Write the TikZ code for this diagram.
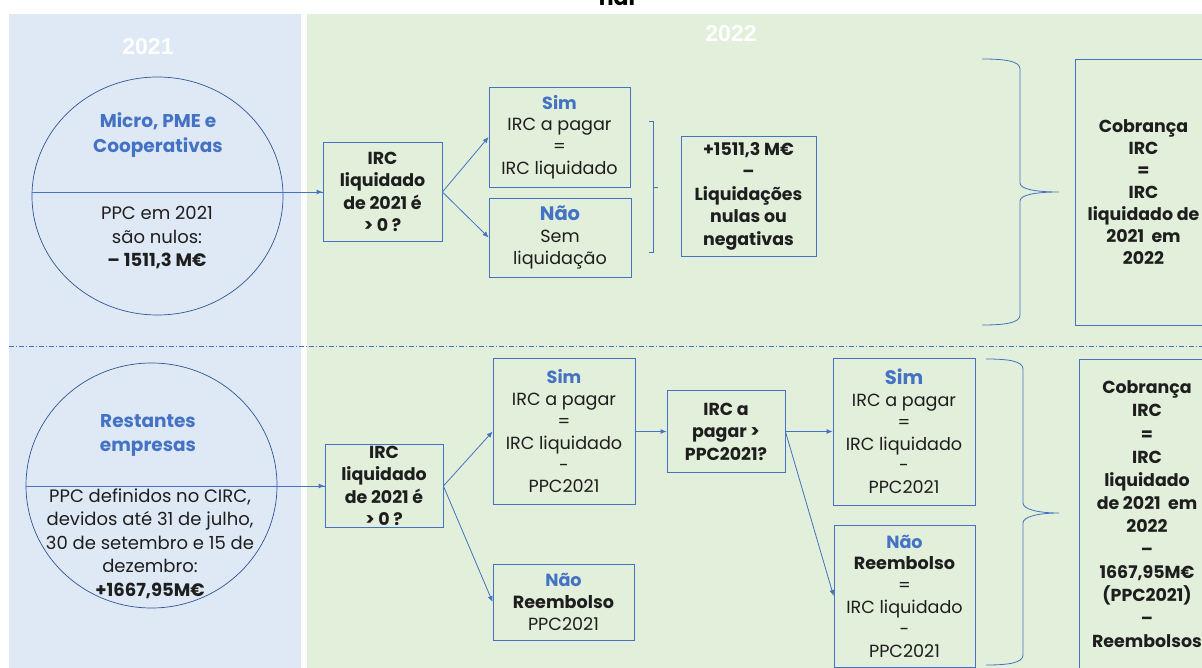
\documentclass[tikz,border=0pt]{standalone}
\usepackage{fontspec}
\setmainfont{Poppins}
\newfontfamily\headfont{Liberation Sans}
\usetikzlibrary{arrows.meta}
\definecolor{bluepanel}{HTML}{DEE9F5}
\definecolor{greenpanel}{HTML}{E2EFDA}
\definecolor{bblue}{HTML}{4472C4}
\definecolor{cblue}{HTML}{2F5597}
\definecolor{ink}{HTML}{1E1E1E}
\begin{document}
\begin{tikzpicture}[x=1pt,y=-1pt,
  box/.style={draw=bblue, line width=0.8pt, align=center, inner sep=0pt, text=ink,
    font=\fontsize{17.6}{21.8}\selectfont},
  bbox/.style={box, font=\fontsize{17.4}{22.5}\selectfont\bfseries},
  txt/.style={align=center, inner sep=0pt, text=ink, font=\fontsize{18}{23.5}\selectfont},
  ttl/.style={align=center, inner sep=0pt, text=bblue, font=\fontsize{18.5}{24.5}\selectfont\bfseries},
  circ/.style={draw=cblue, line width=0.7pt},
  arr/.style={draw=bblue, line width=0.8pt, -{Latex[length=6pt,width=5pt]}},
  ln/.style={draw=bblue, line width=0.8pt},
  brace/.style={draw=bblue, line width=0.8pt},
  year/.style={text=white, inner sep=0pt, font=\headfont\fontsize{23}{23}\selectfont\bfseries}
]
\useasboundingbox (0,0) rectangle (1202,668);
\clip (0,0) rectangle (1202,668);
% panels
\fill[bluepanel] (9,14) rectangle (301,668);
\fill[greenpanel] (307,14) rectangle (1202,668);
\node[inner sep=0pt, anchor=base, font=\fontsize{22}{22}\selectfont\bfseries] (cut) at (617,6) {nal};
\node[year] (y1) at (148,47) {2021};
\node[year] (y2) at (731,34) {2022};
% separator
\draw[bblue, line width=0.8pt, dash pattern=on 5pt off 2pt on 1pt off 2pt] (9,346) -- (1202,346);

% ---------- row 1 ----------
\draw[circ] (157.5,196) ellipse [x radius=125.5, y radius=119];
\node[ttl] (c1t) at (158,135) {Micro, PME e\\Cooperativas};
\node[txt] (c1b) at (157,238) {PPC em 2021\\são nulos:\\\textbf{– 1511,3 M€}};
\coordinate (c1l) at (32,192);

\node[bbox, minimum width=119, minimum height=99] (irc1) at (382.5,192) {IRC\\liquidado\\de 2021 é\\> 0 ?};
\node[box, minimum width=141, minimum height=100] (sim1) at (559.5,137) {\textcolor{bblue}{\bfseries Sim}\\IRC a pagar\\=\\IRC liquidado};
\node[box, minimum width=142, minimum height=79] (nao1) at (560,237.5) {\textcolor{bblue}{\bfseries\fontsize{19.5}{21.8}\selectfont Não}\\Sem\\liquidação};
\node[bbox, minimum width=135, minimum height=120] (val1) at (748.5,196) {+1511,3 M€\\–\\Liquidações\\nulas ou\\negativas};
\node[bbox, minimum width=137, minimum height=266, font=\fontsize{17.4}{22}\selectfont\bfseries] (cob1) at (1143.5,192) {Cobrança\\IRC\\=\\IRC\\liquidado de\\2021\ \ em\\2022};

\draw[ln] (c1l) -- (c1l -| irc1.west);
\draw[arr] (c1l -| 300,0) -- (c1l -| irc1.west);
\draw[arr] (irc1.east) -- (sim1.west);
\draw[arr] (irc1.east) -- (nao1.west);
% small bracket
\coordinate (sb1) at (653,121);
\coordinate (sb2) at (653,252);
\draw[brace] (649,121) -- (sb1) -- (sb2) -- (649,252);
\draw[brace] (653,187) -- (658,187);
% big brace
\draw[brace] (982,59) .. controls (1005,59) and (1020,61) .. (1020,69) -- (1020,183)
  .. controls (1020,189) and (1035,192) .. (1059,192)
  .. controls (1035,192) and (1020,195) .. (1020,201) -- (1020,315)
  .. controls (1020,323) and (1005,325) .. (982,325);

% ---------- row 2 ----------
\draw[circ] (151.5,485.5) ellipse [x radius=125.5, y radius=122.5];
\node[ttl] (c2t) at (148,435.5) {Restantes\\empresas};
\node[txt] (c2b) at (150,543.5) {PPC definidos no CIRC,\\devidos até 31 de julho,\\30 de setembro e 15 de\\dezembro:\\\textbf{+1667,95M€}};
\coordinate (c2l) at (26,486);

\node[bbox, minimum width=118, minimum height=83] (irc2) at (384,486) {IRC\\liquidado\\de 2021 é\\> 0 ?};
\node[box, minimum width=142, minimum height=146] (sim2) at (564,431.5) {\textcolor{bblue}{\bfseries Sim}\\IRC a pagar\\=\\IRC liquidado\\-\\PPC2021};
\node[box, minimum width=141, minimum height=76] (nao2) at (563.5,602) {\textcolor{bblue}{\bfseries Não}\\\textbf{Reembolso}\\PPC2021};
\node[bbox, minimum width=118, minimum height=82] (q2) at (726,431.5) {IRC a\\pagar >\\PPC2021?};
\node[box, minimum width=142, minimum height=147] (sim3) at (904,431.5) {\textcolor{bblue}{\bfseries\fontsize{19.5}{21.8}\selectfont Sim}\\IRC a pagar\\=\\IRC liquidado\\-\\PPC2021};
\node[box, minimum width=141, minimum height=142] (nao3) at (904.5,596) {\textcolor{bblue}{\bfseries Não}\\\textbf{Reembolso}\\=\\IRC liquidado\\-\\PPC2021};
\node[bbox, minimum width=136, minimum height=311, font=\fontsize{17.4}{23.1}\selectfont\bfseries] (cob2) at (1147,514.5) {Cobrança\\IRC\\=\\IRC\\liquidado\\de 2021\ \ em\\2022\\–\\1667,95M€\\(PPC2021)\\–\\Reembolsos};

\draw[ln] (c2l) -- (c2l -| irc2.west);
\draw[arr] (c2l -| 300,0) -- (c2l -| irc2.west);
\draw[arr] (irc2.east) -- (sim2.west);
\draw[arr] (irc2.east) -- (nao2.west);
\draw[arr] (sim2.east) -- (q2.west);
\draw[arr] (q2.east) -- (sim3.west);
\draw[arr] (q2.east) -- (nao3.west);
% big brace 2
\draw[brace] (986,359) .. controls (1008,359) and (1023,361) .. (1023,369) -- (1023,503)
  .. controls (1023,509) and (1037,513) .. (1059,513)
  .. controls (1037,513) and (1023,517) .. (1023,523) -- (1023,655)
  .. controls (1023,663) and (1008,665) .. (986,665);
\end{tikzpicture}
\end{document}
